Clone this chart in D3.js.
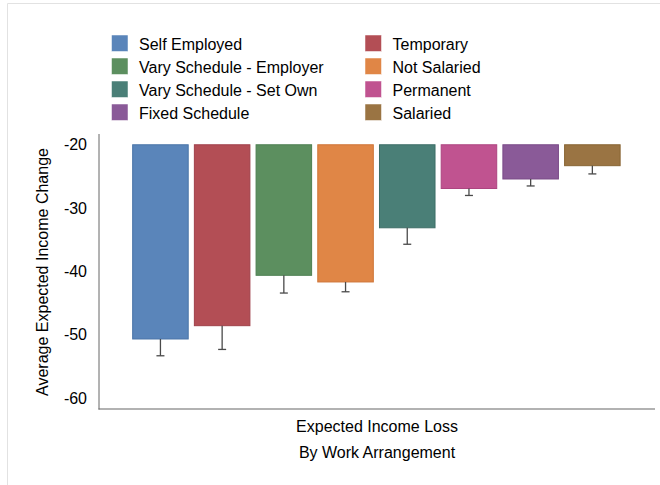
<!DOCTYPE html>
<html>
<head>
<meta charset="utf-8">
<script src="https://cdn.jsdelivr.net/npm/d3@7"></script>
<style>
  html, body { margin: 0; padding: 0; background: #fff; }
  svg { display: block; font-family: "Liberation Sans", Arial, Helvetica, sans-serif; }
</style>
</head>
<body>
<svg id="chart" width="660" height="485"></svg>
<script>
const categories = ["Self Employed", "Temporary", "Vary Schedule - Employer", "Not Salaried",
                    "Vary Schedule - Set Own", "Permanent", "Fixed Schedule", "Salaried"];
const values = [-50.65, -48.55, -40.6, -41.65, -33.1, -26.9, -25.4, -23.3];
const errors = [2.65, 3.75, 2.8, 1.55, 2.6, 1.1, 1.1, 1.3];
const colors = ["#5a85ba", "#b34e55", "#5c8f5f", "#e08646", "#4a7f77", "#c05390", "#8a5a98", "#9a7443"];
const strokeColors = ["#4a74a8", "#a0414a", "#4d7f52", "#cf7537", "#3d6e67", "#ad4580", "#7a4b88", "#886433"];
const legendOrder = [0, 1, 2, 3, 4, 5, 6, 7];
const yTicks = [-20, -30, -40, -50, -60];
const yTitle = "Average Expected Income Change";
const xTitle = ["Expected Income Loss", "By Work Arrangement"];

const svg = d3.select("#chart");

// faint outer frame
svg.append("line").attr("x1", 7.5).attr("x2", 7.5).attr("y1", 3.5).attr("y2", 485)
  .attr("stroke", "#e2e2e2").attr("stroke-width", 1);
svg.append("line").attr("x1", 7.5).attr("x2", 660).attr("y1", 3.5).attr("y2", 3.5)
  .attr("stroke", "#e2e2e2").attr("stroke-width", 1);

const x = d3.scaleBand().domain(categories).range([126.5, 626.3]).paddingInner(0.1).paddingOuter(0.1);
const y = d3.scaleLinear().domain([-61.7, -18.3]).range([409, 134]);
const base = -20;

// bars
svg.append("g").selectAll("rect").data(categories).join("rect")
  .attr("x", d => x(d))
  .attr("width", x.bandwidth())
  .attr("y", y(base))
  .attr("height", (d, i) => y(values[i]) - y(base))
  .attr("fill", (d, i) => colors[i])
  .attr("stroke", (d, i) => strokeColors[i])
  .attr("stroke-width", 1);

// error bars (downward)
const eg = svg.append("g").attr("stroke", "#4a4a4a").attr("stroke-width", 1.3);
categories.forEach((c, i) => {
  const cx = x(c) + x.bandwidth() / 2;
  const y0 = y(values[i]);
  const y1 = y(values[i] - errors[i]);
  eg.append("line").attr("x1", cx).attr("x2", cx).attr("y1", y0).attr("y2", y1);
  eg.append("line").attr("x1", cx - 4).attr("x2", cx + 4).attr("y1", y1).attr("y2", y1);
});

// axes
const yAxis = d3.axisLeft(y).tickValues(yTicks).tickSize(0).tickPadding(12).tickFormat(d => String(d));
const gy = svg.append("g").attr("transform", "translate(99,0)").call(yAxis);
gy.select(".domain").remove();
gy.selectAll("text").attr("font-size", 16).attr("fill", "#000")
  .attr("font-family", "'Liberation Sans', Arial, sans-serif");

svg.append("line").attr("x1", 99).attr("x2", 99).attr("y1", 134).attr("y2", 409.5)
  .attr("stroke", "#666").attr("stroke-width", 1);
svg.append("line").attr("x1", 98.5).attr("x2", 655).attr("y1", 409).attr("y2", 409)
  .attr("stroke", "#666").attr("stroke-width", 1.2);

// y title
svg.append("text")
  .attr("transform", "translate(47.5,272) rotate(-90)")
  .attr("text-anchor", "middle")
  .attr("font-size", 16)
  .attr("fill", "#000")
  .text(yTitle);

// x title
xTitle.forEach((t, i) => {
  svg.append("text")
    .attr("x", 377).attr("y", 432 + i * 25.5)
    .attr("text-anchor", "middle")
    .attr("font-size", 16)
    .attr("fill", "#000")
    .text(t);
});

// legend
const lg = svg.append("g");
legendOrder.forEach((idx, k) => {
  const col = k % 2, row = Math.floor(k / 2);
  const lx = col === 0 ? 111.5 : 365;
  const ly = 35 + row * 23;
  lg.append("rect").attr("x", lx).attr("y", ly).attr("width", 16.5).attr("height", 16.5)
    .attr("fill", colors[idx]).attr("stroke", "#fff").attr("stroke-width", 0.5);
  lg.append("text").attr("x", lx + 27.5).attr("y", ly + 14.5)
    .attr("font-size", 16).attr("fill", "#000").text(categories[idx]);
});
</script>
</body>
</html>
